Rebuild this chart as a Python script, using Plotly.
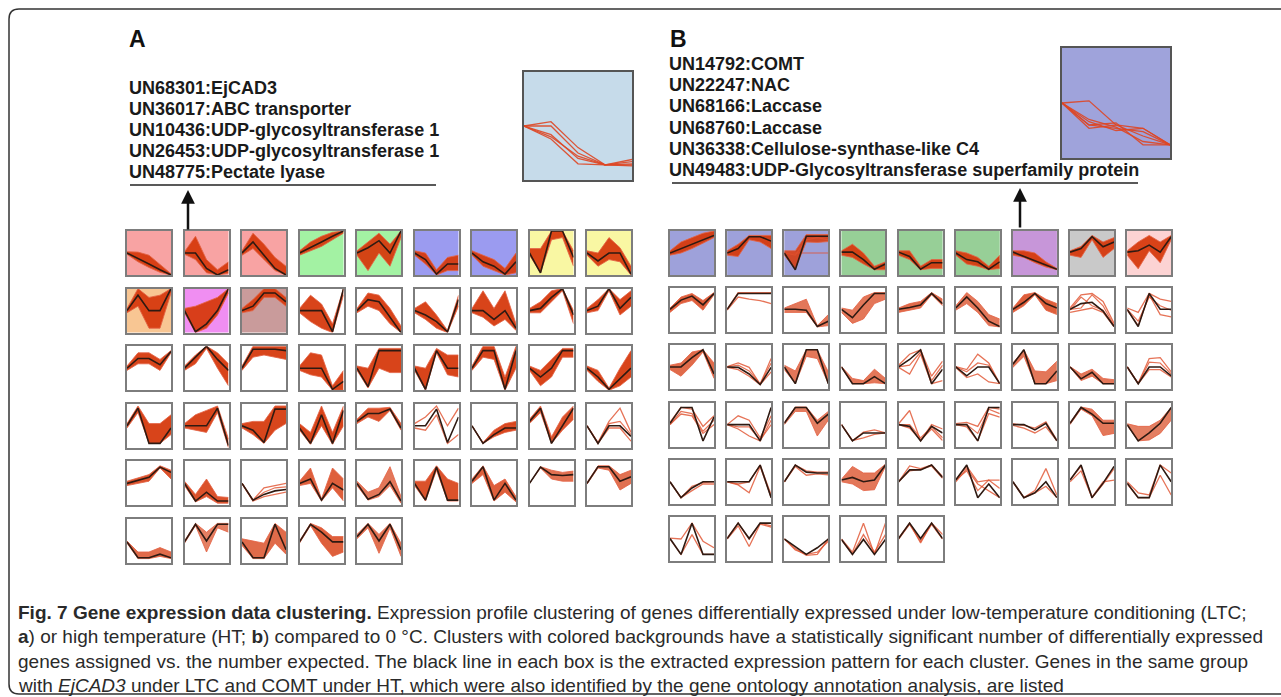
import plotly.graph_objects as go

W, H = 1281, 697

# ---------------- data: panel A (LTC) ----------------
A_bg = ['red', 'red', 'red', 'green', 'green', 'blue', 'blue', 'yellow', 'yellow',
        'orange', 'magenta', 'rose', None, None, None, None, None, None] + [None] * 32
A_genes = [90, 80, 80, 90, 70, 70, 70, 80, 70,
           90, 90, 80, 60, 60, 60, 60, 60, 50,
           50, 50, 40, 40, 40, 40, 40, 40, 40,
           40, 35, 35, 40, 30, 8, 35, 30, 8,
           30, 30, 8, 25, 15, 30, 25, 18, 18,
           20, 12, 20, 25, 18]
A_profile = [
    [0.5, 0.38, 0.25, 0.12, 0.0], [0.5, 0.5, 0.15, 0.0, 0.12], [0.5, 0.75, 0.45, 0.15, 0.0],
    [0.5, 0.62, 0.75, 0.88, 1.0], [0.5, 0.62, 0.78, 0.5, 1.0], [0.5, 0.35, 0.02, 0.25, 0.25],
    [0.5, 0.3, 0.2, 0.02, 0.3], [0.5, 0.05, 1.0, 1.0, 0.4], [0.5, 0.32, 0.5, 0.5, 0.02],
    [0.5, 0.85, 0.5, 0.5, 1.0], [0.5, 0.02, 0.2, 0.5, 1.0], [0.5, 0.6, 0.9, 0.9, 0.7],
    [0.5, 0.5, 0.5, 0.02, 1.0], [0.5, 0.75, 0.7, 0.35, 0.0], [0.5, 0.4, 0.25, 0.02, 0.75],
    [0.5, 0.5, 0.3, 0.5, 0.1], [0.5, 0.55, 0.8, 1.0, 0.4], [0.5, 0.6, 1.0, 0.55, 0.8],
    [0.5, 0.72, 0.72, 0.58, 0.88], [0.5, 0.75, 1.0, 0.7, 0.45], [0.5, 0.93, 0.93, 0.93, 0.9],
    [0.5, 0.5, 0.5, 0.02, 0.2], [0.5, 0.08, 0.9, 0.9, 0.9], [0.5, 0.02, 0.9, 0.5, 0.5],
    [0.5, 0.9, 0.9, 0.02, 0.9], [0.5, 0.3, 0.5, 0.9, 0.9], [0.5, 0.3, 0.02, 0.25, 0.5],
    [0.5, 0.9, 0.1, 0.1, 0.45], [0.5, 0.5, 0.5, 0.9, 0.05], [0.5, 0.4, 0.12, 0.88, 0.88],
    [0.45, 0.1, 0.75, 0.1, 0.85], [0.6, 0.78, 0.78, 0.88, 0.45], [0.5, 0.5, 0.88, 0.12, 0.7],
    [0.5, 0.1, 0.3, 0.45, 0.45], [0.6, 0.9, 0.1, 0.5, 0.9], [0.5, 0.1, 0.5, 0.5, 0.26],
    [0.5, 0.57, 0.64, 0.87, 0.75], [0.5, 0.1, 0.3, 0.1, 0.1], [0.5, 0.12, 0.25, 0.33, 0.36],
    [0.5, 0.6, 0.12, 0.5, 0.35], [0.5, 0.14, 0.25, 0.54, 0.1], [0.5, 0.12, 0.87, 0.12, 0.12],
    [0.55, 0.88, 0.12, 0.5, 0.12], [0.5, 0.87, 0.7, 0.68, 0.7], [0.5, 0.88, 0.88, 0.55, 0.65],
    [0.48, 0.12, 0.12, 0.2, 0.12], [0.48, 0.88, 0.5, 0.88, 0.88], [0.48, 0.12, 0.12, 0.88, 0.3],
    [0.48, 0.88, 0.7, 0.48, 0.48], [0.6, 0.88, 0.5, 0.88, 0.3]]
A_upper = [
    [0.53, 0.52, 0.45, 0.25, 0.03], [0.53, 0.88, 0.35, 0.12, 0.3], [0.55, 0.95, 0.7, 0.4, 0.2],
    [0.55, 0.75, 0.88, 0.97, 1.0], [0.55, 0.75, 0.95, 0.7, 1.0], [0.55, 0.5, 0.12, 0.4, 0.45],
    [0.55, 0.45, 0.35, 0.15, 0.5], [0.6, 0.6, 1.0, 1.0, 0.55], [0.55, 0.5, 0.85, 0.62, 0.2],
    [0.55, 1.0, 0.8, 0.85, 1.0], [0.55, 0.6, 0.7, 0.8, 1.0], [0.55, 0.75, 1.0, 1.0, 0.8],
    [0.55, 0.85, 0.65, 0.2, 1.0], [0.55, 0.9, 0.85, 0.55, 0.15], [0.55, 0.7, 0.4, 0.05, 0.85],
    [0.55, 0.95, 0.55, 0.95, 0.2], [0.55, 0.7, 0.95, 1.0, 0.5], [0.55, 0.75, 1.0, 0.75, 0.95],
    [0.55, 0.85, 0.85, 0.7, 0.9], [0.55, 0.8, 1.0, 0.85, 0.6], [0.55, 1.0, 1.0, 1.0, 1.0],
    [0.55, 0.85, 0.8, 0.1, 0.45], [0.55, 0.5, 0.95, 0.95, 0.95], [0.55, 0.5, 0.95, 0.8, 0.8],
    [0.55, 1.0, 1.0, 0.3, 1.0], [0.55, 0.45, 0.7, 0.95, 0.95], [0.55, 0.45, 0.05, 0.5, 0.9],
    [0.55, 0.95, 0.55, 0.55, 0.75], [0.55, 0.75, 0.85, 0.95, 0.2], [0.55, 0.6, 0.6, 0.95, 0.95],
    [0.55, 0.35, 0.95, 0.35, 0.95], [0.65, 0.9, 0.9, 0.92, 0.55], [0.55, 0.7, 0.95, 0.5, 0.9],
    [0.5, 0.12, 0.4, 0.55, 0.6], [0.65, 0.95, 0.25, 0.7, 0.95], [0.5, 0.12, 0.6, 0.9, 0.35],
    [0.55, 0.62, 0.7, 0.9, 0.8], [0.55, 0.25, 0.6, 0.2, 0.18], [0.5, 0.12, 0.4, 0.45, 0.5],
    [0.55, 0.85, 0.15, 0.85, 0.6], [0.55, 0.3, 0.4, 0.88, 0.2], [0.55, 0.55, 0.9, 0.6, 0.5],
    [0.6, 0.9, 0.45, 0.6, 0.2], [0.5, 0.88, 0.8, 0.75, 0.78], [0.52, 0.9, 0.9, 0.7, 0.8],
    [0.5, 0.25, 0.25, 0.35, 0.25], [0.5, 0.9, 0.7, 0.9, 0.9], [0.55, 0.5, 0.45, 0.9, 0.7],
    [0.5, 0.9, 0.8, 0.6, 0.6], [0.65, 0.9, 0.65, 0.9, 0.45]]
A_lower = [
    [0.47, 0.3, 0.17, 0.06, 0.0], [0.47, 0.35, 0.05, 0.0, 0.04], [0.45, 0.6, 0.35, 0.1, 0.0],
    [0.45, 0.55, 0.65, 0.8, 0.95], [0.45, 0.1, 0.5, 0.2, 0.85], [0.45, 0.25, 0.0, 0.1, 0.1],
    [0.45, 0.2, 0.1, 0.0, 0.05], [0.45, 0.05, 0.8, 0.85, 0.2], [0.45, 0.2, 0.35, 0.3, 0.0],
    [0.45, 0.6, 0.1, 0.1, 0.9], [0.45, 0.0, 0.1, 0.4, 0.9], [0.45, 0.5, 0.8, 0.8, 0.6],
    [0.45, 0.25, 0.1, 0.0, 0.85], [0.45, 0.6, 0.5, 0.2, 0.0], [0.45, 0.3, 0.1, 0.0, 0.6],
    [0.45, 0.35, 0.15, 0.3, 0.05], [0.45, 0.45, 0.7, 0.95, 0.2], [0.45, 0.5, 0.95, 0.4, 0.6],
    [0.45, 0.6, 0.6, 0.45, 0.85], [0.45, 0.6, 0.95, 0.5, 0.1], [0.45, 0.75, 0.8, 0.75, 0.7],
    [0.45, 0.35, 0.3, 0.0, 0.0], [0.45, 0.05, 0.5, 0.4, 0.4], [0.45, 0.0, 0.85, 0.35, 0.3],
    [0.45, 0.75, 0.7, 0.0, 0.5], [0.45, 0.1, 0.3, 0.75, 0.75], [0.45, 0.2, 0.0, 0.1, 0.3],
    [0.45, 0.8, 0.1, 0.1, 0.3], [0.45, 0.4, 0.35, 0.8, 0.0], [0.45, 0.3, 0.1, 0.4, 0.55],
    [0.4, 0.08, 0.5, 0.08, 0.5], [0.55, 0.7, 0.6, 0.85, 0.4], [0.45, 0.4, 0.75, 0.1, 0.3],
    [0.5, 0.1, 0.25, 0.35, 0.4], [0.55, 0.8, 0.1, 0.4, 0.65], [0.5, 0.1, 0.45, 0.45, 0.15],
    [0.45, 0.5, 0.55, 0.85, 0.6], [0.45, 0.08, 0.2, 0.05, 0.05], [0.5, 0.1, 0.2, 0.25, 0.3],
    [0.45, 0.5, 0.1, 0.4, 0.1], [0.45, 0.12, 0.2, 0.45, 0.05], [0.45, 0.1, 0.8, 0.1, 0.1],
    [0.5, 0.7, 0.1, 0.3, 0.08], [0.5, 0.85, 0.6, 0.55, 0.55], [0.48, 0.85, 0.8, 0.35, 0.5],
    [0.45, 0.1, 0.1, 0.15, 0.1], [0.45, 0.85, 0.25, 0.8, 0.7], [0.4, 0.1, 0.1, 0.45, 0.2],
    [0.45, 0.85, 0.45, 0.15, 0.25], [0.55, 0.8, 0.22, 0.8, 0.15]]
A_extra = {33: [[0.5, 0.1, 0.35, 0.5, 0.5]], 35: [[0.5, 0.1, 0.55, 0.6, 0.3]],
           38: [[0.5, 0.11, 0.3, 0.4, 0.42]]}

# ---------------- data: panel B (HT) ----------------
B_bg = ['blue', 'blue', 'blue', 'green', 'green', 'green', 'purple', 'gray', 'pink'] + [None] * 41
B_genes = [80, 60, 30, 60, 60, 50, 40, 50, 40,
           25, 10, 15, 15, 20, 15, 25, 8, 8,
           20, 6, 15, 15, 7, 5, 15, 15, 5,
           6, 5, 12, 5, 6, 6, 5, 15, 12,
           4, 4, 5, 15, 4, 6, 4, 4, 10,
           10, 5, 4, 4, 3]
B_profile = [
    [0.5, 0.6, 0.7, 0.8, 0.9], [0.5, 0.6, 0.87, 0.87, 0.77], [0.5, 0.12, 0.88, 0.88, 0.88],
    [0.52, 0.52, 0.35, 0.13, 0.25], [0.52, 0.42, 0.13, 0.28, 0.28], [0.5, 0.35, 0.3, 0.13, 0.3],
    [0.52, 0.42, 0.33, 0.23, 0.13], [0.52, 0.6, 0.87, 0.64, 0.75], [0.52, 0.55, 0.68, 0.52, 0.87],
    [0.52, 0.73, 0.82, 0.62, 0.88], [0.52, 0.88, 0.88, 0.88, 0.88], [0.52, 0.52, 0.5, 0.13, 0.25],
    [0.52, 0.33, 0.62, 0.88, 0.88], [0.52, 0.56, 0.62, 0.88, 0.65], [0.55, 0.8, 0.55, 0.25, 0.13],
    [0.52, 0.68, 0.88, 0.65, 0.55], [0.52, 0.65, 0.68, 0.48, 0.13], [0.52, 0.13, 0.88, 0.52, 0.52],
    [0.51, 0.51, 0.72, 0.9, 0.35], [0.51, 0.5, 0.35, 0.11, 0.5], [0.51, 0.13, 0.9, 0.9, 0.13],
    [0.51, 0.13, 0.13, 0.29, 0.13], [0.51, 0.68, 0.9, 0.13, 0.46], [0.51, 0.31, 0.51, 0.51, 0.13],
    [0.57, 0.9, 0.13, 0.13, 0.42], [0.51, 0.24, 0.39, 0.13, 0.13], [0.51, 0.13, 0.51, 0.51, 0.31],
    [0.53, 0.89, 0.89, 0.13, 0.67], [0.5, 0.5, 0.5, 0.13, 0.89], [0.53, 0.89, 0.89, 0.53, 0.74],
    [0.5, 0.13, 0.31, 0.31, 0.31], [0.5, 0.46, 0.13, 0.46, 0.31], [0.5, 0.5, 0.13, 0.89, 0.89],
    [0.5, 0.5, 0.38, 0.53, 0.13], [0.53, 0.89, 0.74, 0.53, 0.53], [0.5, 0.13, 0.31, 0.53, 0.89],
    [0.5, 0.14, 0.36, 0.5, 0.5], [0.5, 0.5, 0.5, 0.88, 0.14], [0.5, 0.88, 0.72, 0.7, 0.7],
    [0.54, 0.6, 0.5, 0.54, 0.88], [0.5, 0.77, 0.77, 0.88, 0.6], [0.54, 0.88, 0.14, 0.45, 0.14],
    [0.5, 0.14, 0.25, 0.5, 0.14], [0.54, 0.88, 0.14, 0.47, 0.85], [0.47, 0.14, 0.14, 0.88, 0.5],
    [0.51, 0.15, 0.86, 0.15, 0.15], [0.51, 0.86, 0.51, 0.86, 0.86], [0.5, 0.33, 0.15, 0.3, 0.5],
    [0.49, 0.15, 0.49, 0.15, 0.49], [0.51, 0.86, 0.51, 0.86, 0.51]]
B_upper = [
    [0.55, 0.75, 0.85, 0.95, 1.0], [0.55, 0.7, 0.9, 0.9, 0.9], [0.55, 0.55, 0.92, 0.92, 0.92],
    [0.55, 0.7, 0.5, 0.2, 0.3], [0.55, 0.55, 0.2, 0.35, 0.35], [0.55, 0.5, 0.4, 0.2, 0.45],
    [0.55, 0.55, 0.5, 0.3, 0.15], [0.55, 0.65, 0.9, 0.75, 0.85], [0.55, 0.75, 0.9, 0.75, 0.9],
    [0.55, 0.8, 0.88, 0.72, 0.9], [0.52, 0.9, 0.9, 0.9, 0.9], [0.55, 0.65, 0.75, 0.15, 0.4],
    [0.55, 0.5, 0.8, 0.9, 0.9], [0.55, 0.65, 0.7, 0.9, 0.75], [0.6, 0.9, 0.7, 0.4, 0.3],
    [0.55, 0.85, 0.9, 0.75, 0.65], [0.55, 0.85, 0.88, 0.7, 0.2], [0.55, 0.45, 0.88, 0.75, 0.7],
    [0.55, 0.6, 0.85, 0.9, 0.6], [0.52, 0.6, 0.5, 0.12, 0.7], [0.55, 0.42, 0.9, 0.9, 0.4],
    [0.52, 0.25, 0.2, 0.46, 0.25], [0.55, 0.8, 0.9, 0.3, 0.64], [0.52, 0.45, 0.8, 0.6, 0.13],
    [0.6, 0.9, 0.42, 0.4, 0.64], [0.52, 0.35, 0.46, 0.25, 0.22], [0.52, 0.14, 0.7, 0.72, 0.4],
    [0.55, 0.89, 0.85, 0.46, 0.7], [0.5, 0.7, 0.6, 0.2, 0.7], [0.55, 0.9, 0.9, 0.6, 0.8],
    [0.5, 0.13, 0.33, 0.38, 0.31], [0.52, 0.82, 0.13, 0.5, 0.4], [0.52, 0.55, 0.46, 0.89, 0.85],
    [0.52, 0.48, 0.42, 0.56, 0.15], [0.55, 0.9, 0.85, 0.6, 0.6], [0.52, 0.46, 0.46, 0.6, 0.89],
    [0.5, 0.14, 0.4, 0.48, 0.5], [0.5, 0.45, 0.5, 0.88, 0.2], [0.5, 0.88, 0.75, 0.72, 0.72],
    [0.56, 0.85, 0.7, 0.7, 0.9], [0.5, 0.86, 0.8, 0.88, 0.62], [0.55, 0.85, 0.5, 0.54, 0.54],
    [0.5, 0.14, 0.3, 0.8, 0.2], [0.55, 0.85, 0.15, 0.5, 0.54], [0.5, 0.25, 0.2, 0.88, 0.7],
    [0.52, 0.5, 0.86, 0.45, 0.3], [0.52, 0.86, 0.5, 0.86, 0.8], [0.5, 0.25, 0.15, 0.2, 0.45],
    [0.5, 0.2, 0.86, 0.15, 0.86], [0.52, 0.86, 0.41, 0.86, 0.6]]
B_lower = [
    [0.45, 0.5, 0.6, 0.72, 0.85], [0.45, 0.42, 0.8, 0.75, 0.6], [0.45, 0.14, 0.75, 0.74, 0.76],
    [0.45, 0.4, 0.25, 0.12, 0.12], [0.45, 0.35, 0.12, 0.15, 0.15], [0.45, 0.25, 0.2, 0.12, 0.15],
    [0.45, 0.4, 0.28, 0.18, 0.12], [0.45, 0.4, 0.8, 0.4, 0.6], [0.45, 0.14, 0.55, 0.28, 0.8],
    [0.45, 0.65, 0.72, 0.5, 0.85], [0.5, 0.8, 0.75, 0.72, 0.65], [0.45, 0.45, 0.45, 0.12, 0.15],
    [0.45, 0.2, 0.3, 0.65, 0.75], [0.45, 0.5, 0.55, 0.85, 0.6], [0.5, 0.65, 0.45, 0.15, 0.12],
    [0.45, 0.6, 0.85, 0.5, 0.4], [0.45, 0.5, 0.55, 0.45, 0.13], [0.5, 0.15, 0.85, 0.4, 0.35],
    [0.45, 0.3, 0.55, 0.85, 0.25], [0.5, 0.45, 0.3, 0.11, 0.4], [0.45, 0.13, 0.75, 0.7, 0.13],
    [0.5, 0.13, 0.13, 0.15, 0.13], [0.5, 0.35, 0.8, 0.13, 0.2], [0.5, 0.27, 0.35, 0.17, 0.13],
    [0.5, 0.75, 0.13, 0.13, 0.2], [0.5, 0.2, 0.3, 0.13, 0.13], [0.5, 0.13, 0.45, 0.45, 0.28],
    [0.5, 0.74, 0.7, 0.3, 0.5], [0.5, 0.4, 0.24, 0.13, 0.6], [0.5, 0.8, 0.8, 0.24, 0.6],
    [0.5, 0.14, 0.2, 0.28, 0.31], [0.5, 0.42, 0.15, 0.4, 0.14], [0.5, 0.45, 0.13, 0.75, 0.67],
    [0.48, 0.42, 0.31, 0.45, 0.13], [0.5, 0.85, 0.7, 0.25, 0.3], [0.48, 0.13, 0.15, 0.3, 0.6],
    [0.5, 0.14, 0.3, 0.45, 0.45], [0.5, 0.43, 0.25, 0.85, 0.14], [0.5, 0.85, 0.65, 0.68, 0.66],
    [0.5, 0.45, 0.3, 0.32, 0.85], [0.5, 0.75, 0.78, 0.86, 0.58], [0.5, 0.8, 0.45, 0.3, 0.14],
    [0.5, 0.14, 0.25, 0.4, 0.14], [0.5, 0.75, 0.14, 0.45, 0.8], [0.45, 0.14, 0.14, 0.65, 0.2],
    [0.5, 0.15, 0.6, 0.15, 0.15], [0.5, 0.8, 0.33, 0.84, 0.77], [0.5, 0.28, 0.13, 0.15, 0.5],
    [0.48, 0.15, 0.6, 0.2, 0.6], [0.5, 0.83, 0.45, 0.83, 0.5]]
B_extra = {2: [[0.5, 0.5, 0.5, 0.5, 0.5], [0.5, 0.45, 0.8, 0.85, 0.8]],
           16: [[0.52, 0.55, 0.85, 0.6, 0.15], [0.5, 0.8, 0.6, 0.5, 0.14]],
           17: [[0.52, 0.25, 0.8, 0.6, 0.5]], 19: [[0.51, 0.55, 0.42, 0.12, 0.6]],
           22: [[0.51, 0.55, 0.85, 0.2, 0.55]], 23: [[0.51, 0.4, 0.6, 0.55, 0.13]],
           26: [[0.51, 0.13, 0.62, 0.6, 0.35]], 27: [[0.5, 0.8, 0.75, 0.35, 0.6]],
           28: [[0.5, 0.45, 0.45, 0.15, 0.5]], 31: [[0.5, 0.5, 0.2, 0.45, 0.2]],
           32: [[0.5, 0.5, 0.3, 0.85, 0.75]], 41: [[0.54, 0.75, 0.3, 0.54, 0.35]]}

# inset gene profiles (no extracted pattern line)
inset_A_genes = [[0.5, 0.54, 0.3, 0.14, 0.17], [0.5, 0.5, 0.25, 0.14, 0.13],
                 [0.5, 0.42, 0.2, 0.14, 0.14], [0.5, 0.38, 0.15, 0.14, 0.19],
                 [0.5, 0.4, 0.22, 0.14, 0.15]]
inset_B_genes = [[0.5, 0.52, 0.3, 0.27, 0.12], [0.5, 0.35, 0.28, 0.15, 0.12],
                 [0.5, 0.3, 0.32, 0.12, 0.12], [0.5, 0.27, 0.3, 0.2, 0.12],
                 [0.5, 0.33, 0.25, 0.27, 0.12], [0.5, 0.3, 0.27, 0.24, 0.12]]
time_points = [0, 1, 2, 3, 4]

A_genes_list = ['UN68301:EjCAD3', 'UN36017:ABC transporter', 'UN10436:UDP-glycosyltransferase 1',
                'UN26453:UDP-glycosyltransferase 1', 'UN48775:Pectate lyase']
B_genes_list = ['UN14792:COMT', 'UN22247:NAC', 'UN68166:Laccase', 'UN68760:Laccase',
                'UN36338:Cellulose-synthase-like C4',
                'UN49483:UDP-Glycosyltransferase superfamily protein']
caption = [
    '<b>Fig. 7 Gene expression data clustering.</b> Expression profile clustering of genes differentially '
    'expressed under low-temperature conditioning (LTC;',
    '<b>a</b>) or high temperature (HT; <b>b</b>) compared to 0 °C. Clusters with colored backgrounds have a '
    'statistically significant number of differentially expressed',
    'genes assigned vs. the number expected. The black line in each box is the extracted expression '
    'pattern for each cluster. Genes in the same group',
    'with <i>EjCAD3</i> under LTC and COMT under HT, which were also identified by the gene ontology '
    'annotation analysis, are listed']

# ---------------- styling ----------------
BG = {'red': '#f8a3a3', 'green': '#a3f2a3', 'blue': '#9b9bf0', 'yellow': '#f9f7a3',
      'orange': '#f8c693', 'magenta': '#f08ef2', 'rose': '#c99b9b'}
BGB = {'blue': '#9ea1da', 'green': '#97cf97', 'purple': '#c796d9', 'gray': '#c9c9c9',
       'pink': '#fcd3d3'}
RED = '214,58,14'
fx = lambda x: x / W
fy = lambda y: 1 - y / H

fig = go.Figure()
layout = {}
shapes = []
annotations = []
ax_count = [0]


def new_axes(x0, y0, w, h, lc='#7d7d7d', lw=2):
    ax_count[0] += 1
    n = ax_count[0]
    sfx = '' if n == 1 else str(n)
    common = dict(showline=True, mirror=True, linecolor=lc, linewidth=lw, showgrid=False,
                  zeroline=False, showticklabels=False, ticks='', fixedrange=True)
    layout['xaxis' + sfx] = dict(domain=[fx(x0), fx(x0 + w)], range=[0, 4],
                                 anchor='y' + sfx, **common)
    layout['yaxis' + sfx] = dict(domain=[fy(y0 + h), fy(y0)], range=[0, 1],
                                 anchor='x' + sfx, **common)
    return 'x' + sfx, 'y' + sfx


def add_bg(xr, yr, color):
    shapes.append(dict(type='rect', xref=xr + ' domain', yref=yr + ' domain', x0=0, x1=1,
                       y0=0, y1=1, fillcolor=color, line=dict(width=0), layer='below'))


def draw_cluster(xr, yr, prof, up, lo, n, extra):
    if n >= 12:
        a = min(0.95, 0.5 + n / 80.0)
        fig.add_trace(go.Scatter(x=time_points + time_points[::-1], y=up + lo[::-1],
                                 fill='toself', fillcolor='rgba(%s,%.2f)' % (RED, a),
                                 mode='lines', line=dict(width=0), xaxis=xr, yaxis=yr,
                                 hoverinfo='skip'))
        for ln in (up, lo):
            fig.add_trace(go.Scatter(x=time_points, y=ln, mode='lines',
                                     line=dict(color='rgba(228,100,70,0.85)', width=1),
                                     xaxis=xr, yaxis=yr, hoverinfo='skip'))
    else:
        for ln in [up, lo]:
            fig.add_trace(go.Scatter(x=time_points, y=ln, mode='lines',
                                     line=dict(color='rgba(224,80,45,0.8)', width=1.3),
                                     xaxis=xr, yaxis=yr, hoverinfo='skip'))
    for ln in extra:
        fig.add_trace(go.Scatter(x=time_points, y=ln, mode='lines',
                                 line=dict(color='rgba(224,80,45,0.8)', width=1.2),
                                 xaxis=xr, yaxis=yr, hoverinfo='skip'))
    fig.add_trace(go.Scatter(x=time_points, y=prof, mode='lines',
                             line=dict(color='#2e1a12', width=1.6),
                             xaxis=xr, yaxis=yr, hoverinfo='skip'))


BOX = 44
for panel, (x0, dx, y0, dy, bgs, cmap, prof, up, lo, ng, ex) in enumerate([
        (127, 57.5, 231, 57.6, A_bg, BG, A_profile, A_upper, A_lower, A_genes, A_extra),
        (670, 57.15, 231, 57.2, B_bg, BGB, B_profile, B_upper, B_lower, B_genes, B_extra)]):
    for i in range(len(prof)):
        r, c = divmod(i, 9)
        xr, yr = new_axes(x0 + c * dx, y0 + r * dy, BOX, BOX)
        if bgs[i]:
            add_bg(xr, yr, cmap[bgs[i]])
        draw_cluster(xr, yr, prof[i], up[i], lo[i], ng[i], ex.get(i, []))

# insets
for (ix, iy, iw, ih, col, genes) in [(524, 72, 108, 108, '#c6dbea', inset_A_genes),
                                      (1062, 48, 108, 110, '#9fa3db', inset_B_genes)]:
    xr, yr = new_axes(ix, iy, iw, ih, lc='#555555', lw=1.5)
    add_bg(xr, yr, col)
    for g in genes:
        fig.add_trace(go.Scatter(x=time_points, y=g, mode='lines',
                                 line=dict(color='rgba(222,70,35,0.9)', width=1.3),
                                 xaxis=xr, yaxis=yr, hoverinfo='skip'))

# panel labels and gene lists
TF = 'Liberation Sans, Arial, sans-serif'
for lab, lx in (('A', 127), ('B', 668)):
    annotations.append(dict(x=fx(lx), y=fy(39), xref='paper', yref='paper', text='<b>%s</b>' % lab,
                            showarrow=False, xanchor='left', yanchor='middle',
                            font=dict(family=TF, size=23, color='#111')))
for k, t in enumerate(A_genes_list):
    annotations.append(dict(x=fx(127), y=fy(88 + 21 * k), xref='paper', yref='paper',
                            text='<b>%s</b>' % t, showarrow=False, xanchor='left', yanchor='middle',
                            font=dict(family=TF, size=18, color='#1a1a1a')))
for k, t in enumerate(B_genes_list):
    annotations.append(dict(x=fx(667), y=fy(64 + 21.2 * k), xref='paper', yref='paper',
                            text='<b>%s</b>' % t, showarrow=False, xanchor='left', yanchor='middle',
                            font=dict(family=TF, size=18, color='#1a1a1a')))
# underlines
for (ux0, ux1, uy) in ((130, 436, 185), (672, 1138, 183)):
    shapes.append(dict(type='line', xref='paper', yref='paper', x0=fx(ux0), x1=fx(ux1),
                       y0=fy(uy), y1=fy(uy), line=dict(color='#222', width=1.5)))
# arrows
for (axp, hy) in ((188, 190), (1020, 188)):
    annotations.append(dict(x=fx(axp), y=fy(hy), xref='paper', yref='paper', text='',
                            showarrow=True, ax=0, ay=41, arrowhead=2, arrowsize=1.1,
                            arrowwidth=2.5, arrowcolor='#111'))
# caption
CF = 'Liberation Sans, Arial, sans-serif'
for k, t in enumerate(caption):
    annotations.append(dict(x=fx(16), y=fy(612 + 24.6 * k), xref='paper', yref='paper', text=t,
                            showarrow=False, xanchor='left', yanchor='middle',
                            font=dict(family=CF, size=19, color='#2a2a2a')))
# outer rounded frame
r = 10
L, T, Bt, R = 9, 9, 694, W + 20
path = ('M %f %f L %f %f Q %f %f %f %f L %f %f Q %f %f %f %f L %f %f' % (
    fx(R), fy(T), fx(L + r), fy(T), fx(L), fy(T), fx(L), fy(T + r), fx(L), fy(Bt - r),
    fx(L), fy(Bt), fx(L + r), fy(Bt), fx(R), fy(Bt)))
shapes.append(dict(type='path', xref='paper', yref='paper', path=path,
                   line=dict(color='#333', width=1.5)))

fig.update_layout(width=W, height=H, margin=dict(l=0, r=0, t=0, b=0), showlegend=False,
                  paper_bgcolor='white', plot_bgcolor='rgba(0,0,0,0)',
                  shapes=shapes, annotations=annotations, **layout)
fig.write_html('out.html', config={'displayModeBar': False},
               post_script="document.body.style.margin='0px';document.body.style.overflow='hidden';")
